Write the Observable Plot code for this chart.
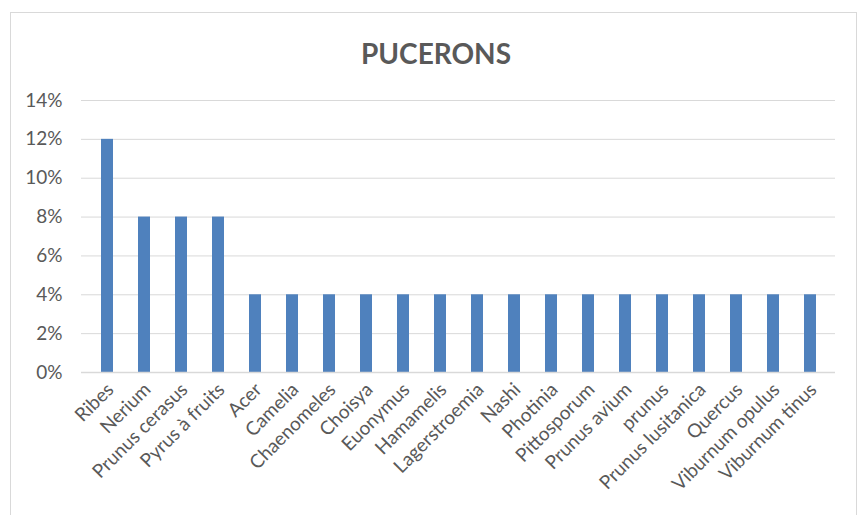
<!DOCTYPE html>
<html>
<head>
<meta charset="utf-8">
<script src="https://cdn.jsdelivr.net/npm/d3@7"></script>
<script src="https://cdn.jsdelivr.net/npm/@observablehq/plot@0.6"></script>
<style>
  html, body { margin: 0; padding: 0; background: #fff; }
  #wrap { position: relative; width: 868px; height: 515px; overflow: hidden; }
  #frame { position: absolute; left: 10px; top: 12px; width: 847px; height: 520px; border: 1px solid #D9D9D9; box-sizing: border-box; }
  #title { position: absolute; left: 0; width: 872px; top: 36px; text-align: center; font-family: Lato, "Open Sans", sans-serif; font-weight: bold; font-size: 28px; color: #595959; }
  #chart { position: absolute; left: 0; top: 0; }
</style>
</head>
<body>
<div id="wrap">
  <div id="frame"></div>
  <div id="title">PUCERONS</div>
  <div id="chart"></div>
</div>
<script>
const categories = ["Ribes", "Nerium", "Prunus cerasus", "Pyrus à fruits", "Acer", "Camelia", "Chaenomeles", "Choisya", "Euonymus", "Hamamelis", "Lagerstroemia", "Nashi", "Photinia", "Pittosporum", "Prunus avium", "prunus", "Prunus lusitanica", "Quercus", "Viburnum opulus", "Viburnum tinus"];
const values = [0.12, 0.08, 0.08, 0.08, 0.04, 0.04, 0.04, 0.04, 0.04, 0.04, 0.04, 0.04, 0.04, 0.04, 0.04, 0.04, 0.04, 0.04, 0.04, 0.04];
const yTicks = [0, 0.02, 0.04, 0.06, 0.08, 0.10, 0.12, 0.14];

const data = categories.map((c, i) => ({cat: c, v: values[i]}));

const chart = Plot.plot({
  width: 868,
  height: 515,
  marginLeft: 81,
  marginRight: 33,
  marginTop: 100,
  marginBottom: 143,
  style: {fontFamily: "Lato, 'Open Sans', sans-serif", fontSize: "19px", color: "#595959", background: "transparent"},
  x: {domain: categories, paddingInner: 0.68, paddingOuter: 0.34, align: 0.5, label: null},
  y: {domain: [0, 0.14], label: null},
  marks: [
    Plot.ruleY(yTicks, {stroke: "#D9D9D9", strokeWidth: 1}),
    Plot.barY(data, {x: "cat", y: "v", fill: "#4F81BD"}),
    Plot.ruleY([0], {stroke: "#D9D9D9", strokeWidth: 1.5}),
    Plot.axisY({ticks: yTicks, tickFormat: d => Math.round(d * 100) + "%", tickSize: 0, tickPadding: 19, label: null, fontSize: 19}),
    Plot.axisX({tickSize: 0, tickRotate: -45, tickPadding: 14, dx: 3, label: null, fontSize: 19})
  ]
});
document.getElementById("chart").appendChild(chart);
</script>
</body>
</html>
